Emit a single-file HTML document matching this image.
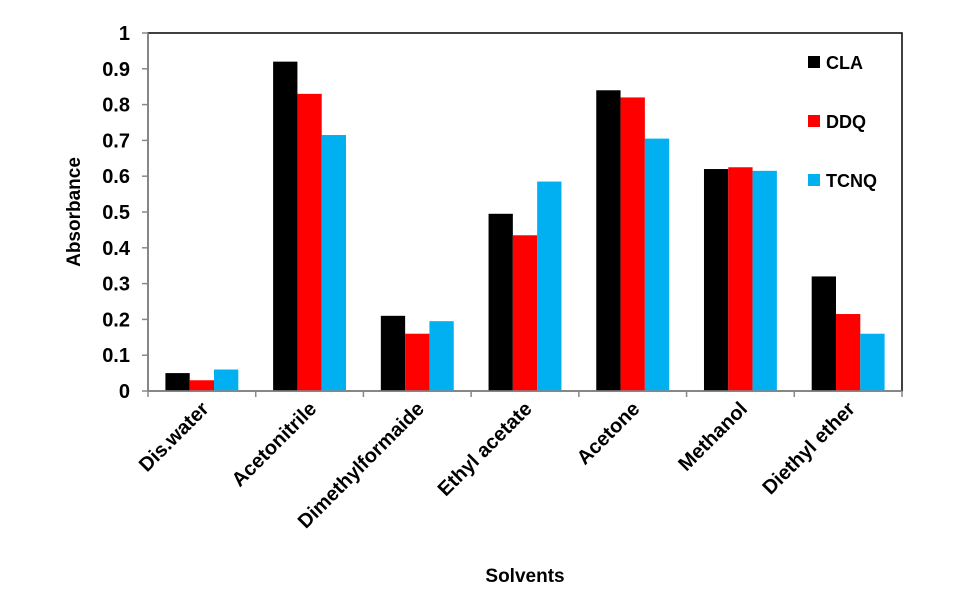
<!DOCTYPE html>
<html><head><meta charset="utf-8"><style>
body{margin:0;background:#fff;}
svg text{font-family:"Liberation Sans",Arial,sans-serif;font-weight:bold;fill:#000;}
</style></head><body>
<svg width="959" height="591" xmlns="http://www.w3.org/2000/svg">
<g id="plot"></g>
<text x="80" y="212" font-size="19" text-anchor="middle" transform="rotate(-90 80 212)">Absorbance</text>
<text x="525" y="582" font-size="19" text-anchor="middle">Solvents</text>
</svg>
<script>
const categories=["Dis.water","Acetonitrile","Dimethylformaide","Ethyl acetate","Acetone","Methanol","Diethyl ether"];
const seriesNames=["CLA","DDQ","TCNQ"];
const cla=[0.05,0.92,0.21,0.495,0.84,0.62,0.32];
const ddq=[0.03,0.83,0.16,0.435,0.82,0.625,0.215];
const tcnq=[0.06,0.715,0.195,0.585,0.705,0.615,0.16];
const yTicks=[0,0.1,0.2,0.3,0.4,0.5,0.6,0.7,0.8,0.9,1];
const yTickLabels=["0","0.1","0.2","0.3","0.4","0.5","0.6","0.7","0.8","0.9","1"];

const NS="http://www.w3.org/2000/svg";
const g=document.getElementById('plot');
const X0=148,X1=902,Y0=391,Y1=33;
const colors=["#000000","#ff0000","#00b0f0"];
const y=v=>Y0-(v-0)/(1-0)*(Y0-Y1);
const band=(X1-X0)/categories.length;
const x=i=>X0+i*band;
function mk(t,a){const e=document.createElementNS(NS,t);for(const k in a)e.setAttribute(k,a[k]);g.appendChild(e);return e;}
let e=mk('rect',{x:X0,y:Y1,width:X1-X0,height:Y0-Y1,fill:'none',stroke:'#000','stroke-width':1.5});


const series=[cla,ddq,tcnq];
const bw=24.3,off=(band-3*bw)/2;
series.forEach((s,si)=>{s.forEach((v,i)=>{
 const r=mk('rect',{x:x(i)+off+si*bw,y:y(v),width:bw,height:Y0-y(v),fill:colors[si]});
 
 
});});
e=mk('line',{x1:X0,y1:Y1,x2:X0,y2:Y0,stroke:'#888','stroke-width':1.5});


e=mk('line',{x1:X0,y1:Y0,x2:X1,y2:Y0,stroke:'#888','stroke-width':1.5});


yTicks.forEach((t,i)=>{
 mk('line',{x1:X0-6,y1:y(t),x2:X0,y2:y(t),stroke:'#888','stroke-width':1.5});
 const tx=mk('text',{x:130,y:y(t)+7,'font-size':20,'text-anchor':'end'});
 tx.textContent=yTickLabels[i];
 
 
});
for(let i=0;i<=categories.length;i++)mk('line',{x1:x(i),y1:Y0,x2:x(i),y2:Y0+6,stroke:'#888','stroke-width':1.5});
categories.forEach((c,i)=>{
 const cx=x(i)+band/2+8,cy=Y0+19;
 const tx=mk('text',{x:cx,y:cy,'font-size':20,'text-anchor':'end',transform:`rotate(-45 ${cx} ${cy})`});
 tx.textContent=c;
 
 
});
seriesNames.forEach((n,i)=>{
 const ly=62+i*59;
 const r=mk('rect',{x:808,y:ly-6,width:12,height:12,fill:colors[i]});
 
 
 const t=mk('text',{x:826,y:ly+7,'font-size':18});
 t.textContent=n;
 
 
});
</script>
</body></html>
